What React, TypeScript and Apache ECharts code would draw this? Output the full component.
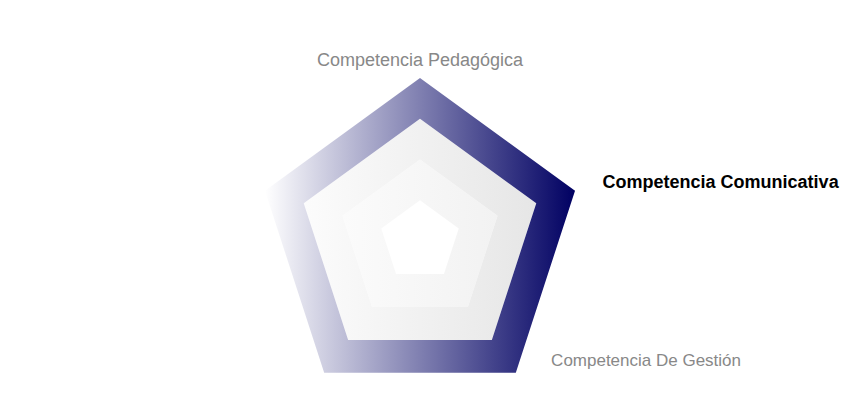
import { useEffect, useRef } from 'react';
import * as echarts from 'echarts';

const indicatorNames = [
  'Competencia Pedagógica',
  '',
  '',
  'Competencia De Gestión',
  'Competencia Comunicativa',
];
const indicatorMax = [100, 100, 100, 100, 100];
const highlighted = 'Competencia Comunicativa';
const shifted = 'Competencia De Gestión';

const FONT = 'Liberation Sans, Arial, sans-serif';

export default function App() {
  const chartRef = useRef<HTMLDivElement>(null);

  useEffect(() => {
    if (!chartRef.current) return;
    const chart = echarts.init(chartRef.current, null, { renderer: 'svg' });

    const option: echarts.EChartsOption = {
      animation: false,
      backgroundColor: '#ffffff',
      radar: {
        center: [420, 241],
        radius: 163,
        startAngle: 90,
        splitNumber: 4,
        shape: 'polygon',
        nameGap: 9,
        indicator: indicatorNames.map((name, i) => ({ name, max: indicatorMax[i] })),
        axisName: {
          color: '#888888',
          fontSize: 18,
          fontFamily: FONT,
          formatter: (value: string) => {
            if (value === highlighted) return `{b|${value}}`;
            if (value === shifted) return `{g|${value}}`;
            return value;
          },
          rich: {
            b: {
              color: '#000000',
              fontWeight: 'bold',
              fontSize: 18,
              fontFamily: FONT,
              padding: [0, 0, 12, 19],
            },
            g: {
              color: '#888888',
              fontSize: 17,
              fontFamily: FONT,
              padding: [0, 0, 40, 30],
            },
          },
        },
        axisLine: { show: false },
        splitLine: { show: false },
        splitArea: {
          show: true,
          areaStyle: {
            color: [
              '#ffffff',
              new echarts.graphic.LinearGradient(0, 0, 1, 0, [
                { offset: 0, color: '#fbfbfb' },
                { offset: 1, color: '#f2f2f2' },
              ]),
              new echarts.graphic.LinearGradient(0, 0, 1, 0, [
                { offset: 0, color: '#fcfcfc' },
                { offset: 1, color: '#e6e6e6' },
              ]),
              new echarts.graphic.LinearGradient(0, 0, 1, 0, [
                { offset: 0, color: '#ffffff' },
                { offset: 1, color: '#000062' },
              ]),
            ],
          },
        },
      },
    };

    chart.setOption(option);
    return () => chart.dispose();
  }, []);

  return (
    <div
      ref={chartRef}
      style={{ position: 'fixed', left: 0, top: 0, width: 841, height: 400 }}
    />
  );
}
